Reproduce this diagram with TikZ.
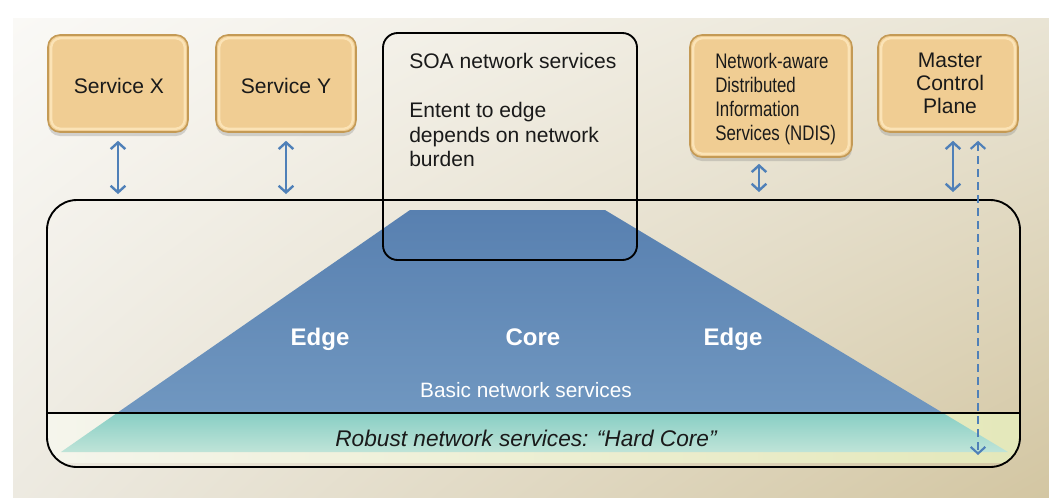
\documentclass[tikz,border=0pt]{standalone}
\usepackage{fontspec}
\usepackage{graphicx}
\setmainfont{Liberation Sans}
\usetikzlibrary{arrows.meta,fit,calc,shadows,shadings}
\definecolor{boxfill}{HTML}{F0CD93}
\definecolor{boxedge}{HTML}{C49A55}
\definecolor{boxrim}{HTML}{FBE3B6}
\definecolor{arrowblue}{HTML}{4F80B8}
\definecolor{bgul}{HTML}{FAF9F6}
\definecolor{bgur}{HTML}{E9E4D4}
\definecolor{bgll}{HTML}{EDEAE1}
\definecolor{bglr}{HTML}{D3C6A2}
\definecolor{blueT}{HTML}{5880B0}
\definecolor{blueB}{HTML}{7097C0}
\definecolor{tealT}{HTML}{88CEC4}
\definecolor{tealB}{HTML}{BFE4D8}
\definecolor{lowl}{HTML}{F5F5EC}
\definecolor{lowr}{HTML}{E4E8BA}
\definecolor{txt}{HTML}{1A1A1A}
\begin{document}
\begin{tikzpicture}[x=0.75pt,y=-0.75pt,
  svcbox/.style={inner sep=0pt, rounded corners=9pt, fill=boxfill, draw=boxedge, line width=1.2pt,
    drop shadow={opacity=0.3, shadow xshift=0pt, shadow yshift=-3pt},
    path picture={\draw[boxrim, line width=1.8pt, rounded corners=7pt]
      ([shift={(2.4pt,2.4pt)}]path picture bounding box.south west) rectangle
      ([shift={(-2.4pt,-2.4pt)}]path picture bounding box.north east);}},
  boxtext/.style={inner sep=0pt, text=txt, font=\fontsize{15.8}{17}\selectfont},
  outline/.style={inner sep=0pt, draw=black, line width=1.4pt},
  link/.style={arrowblue, line width=1.8pt, {Straight Barb[length=5pt,width=11pt]}-{Straight Barb[length=5pt,width=11pt]}},
  dlink/.style={link, line width=1.6pt, dash pattern=on 6pt off 3.75pt},
  bigw/.style={text=white, font=\fontsize{18}{20}\bfseries\selectfont, anchor=base},
]
\useasboundingbox (0,0) rectangle (1049,497);
\fill[white] (0,0) rectangle (1049,497);
\shade[upper left=bgul, upper right=bgur, lower left=bgll, lower right=bglr] (13,18) rectangle (1049,497);

% layers inside the frame
\begin{scope}
  \clip[rounded corners=22.5pt] (47,200) rectangle (1020,467);
  \shade[left color=lowl, right color=lowr] (47,413) rectangle (1020,462);
  \shade[top color=blueT, bottom color=blueB] (410,210) -- (605,210) -- (943,413) -- (117,413) -- cycle;
  \shade[top color=tealT, bottom color=tealB] (117,413) -- (943,413) -- (1008,452) -- (61,452) -- cycle;
\end{scope}

\coordinate (dl) at (47,413);
\coordinate (dr) at (1020,413);
\draw[line width=1.3pt] (dl) -- (dr);

\node[outline, rounded corners=22.5pt, fit={(47,200) (1020,467)}] (frame) {};
\node[outline, rounded corners=11pt, fit={(383,33) (637,260)}] (soa) {};

\node[anchor=north west, inner sep=0pt, align=left, text=txt, font=\fontsize{15.8}{18.4}\selectfont]
  (soatext) at (409,53) {SOA network services\\[18.4pt]Entent to edge\\depends on network\\burden};

\node[bigw] (edgeL) at (320,345) {Edge};
\node[bigw] (core) at (533,345) {Core};
\node[bigw] (edgeR) at (733,345) {Edge};
\node[anchor=base, text=white, font=\fontsize{15.6}{17}\selectfont] (basic) at (526,397) {Basic network services};
\node[anchor=base, text=txt, font=\fontsize{17}{19}\itshape\selectfont] (robust) at (526,446) {Robust network services: “Hard Core”};

% service boxes
\node[svcbox, fit={(48,35) (188,132)}] (sx) {};
\node[svcbox, fit={(216,35) (356,132)}] (sy) {};
\node[svcbox, fit={(690,35) (852,157)}] (ndis) {};
\node[svcbox, fit={(878,35) (1018,132)}] (mcp) {};

\node[boxtext, anchor=base] (sxt) at (119,93) {Service X};
\node[boxtext, anchor=base] (syt) at (286,93) {Service Y};
\node[boxtext, anchor=north west, font=\fontsize{15.8}{18}\selectfont] (ndist) at (715,51.5)
  {\scalebox{0.8}[1]{\begin{tabular}{@{}l@{}}Network-aware\\Distributed\\Information\\Services (NDIS)\end{tabular}}};
\node[boxtext, anchor=north, align=center] (mcpt) at (950,53) {Master\\Control\\Plane};

% connectors
\draw[link] ($(sx.south)+(0,8)$) -- ($(sx.south |- frame.north)+(0,-5)$);
\draw[link] ($(sy.south)+(0,8)$) -- ($(sy.south |- frame.north)+(0,-5)$);
\draw[link] ($(ndis.south)+(-12,6)$) -- ($(ndis.south |- frame.north)+(-12,-7)$);
\draw[link] ($(mcp.south)+(5,8)$) -- ($(mcp.south |- frame.north)+(5,-7)$);
\coordinate (dashend) at (978,455);
\draw[dlink] ($(mcp.south)+(30,8)$) -- (dashend);
\end{tikzpicture}
\end{document}
